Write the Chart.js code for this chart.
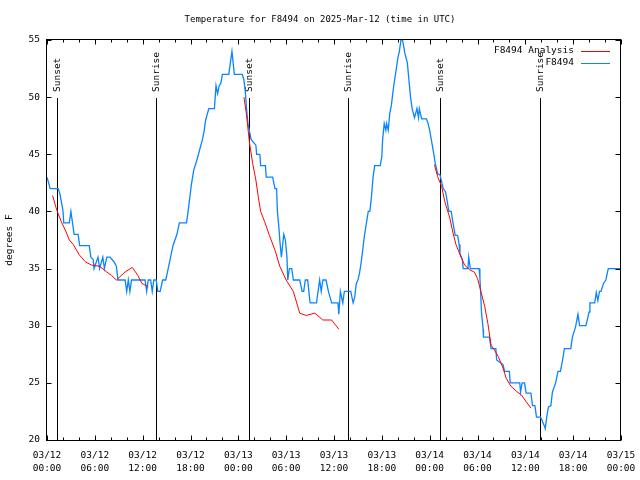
<!DOCTYPE html>
<html>
<head>
<meta charset="utf-8">
<script src="https://cdn.jsdelivr.net/npm/chart.js@4.4.1/dist/chart.umd.min.js"></script>
<style>
  html, body { margin: 0; padding: 0; background: #fff; }
</style>
</head>
<body>
<canvas id="chart" width="640" height="480"></canvas>
<script>
// hours since 03/12 00:00 UTC
const blueHours = [0, 0.4, 1.4, 1.6, 2.0, 2.1, 2.8, 3.0, 3.2, 3.4, 3.9, 4.1, 5.3, 5.5, 5.8, 5.9, 6.4, 6.6, 7.0, 7.2, 7.5, 7.9,
  8.4, 8.7, 8.9, 9.8, 10.0, 10.2, 10.4, 10.6, 12.3, 12.5, 12.7, 13.0, 13.2, 13.4, 13.7, 13.9, 14.2, 14.5, 14.9,
  15.2, 15.5, 15.8, 16.3, 16.6, 17.0, 17.5, 17.7, 18.1, 18.4, 18.8, 19.0, 19.5, 19.7, 19.9, 20.3, 21.0, 21.2, 21.4,
  21.6, 21.8, 22.0, 22.8, 23.0, 23.2, 23.5, 24.5, 24.7, 24.9, 25.0, 25.2, 25.6, 26.2, 26.3, 26.7, 26.8, 27.4, 27.5,
  28.3, 28.6, 28.8, 28.9, 29.1, 29.2, 29.4, 29.7, 29.9, 30.1, 30.2, 30.4, 30.7, 30.9, 31.7, 32.0, 32.2, 32.4, 32.7,
  33.0, 33.8, 34.0, 34.2, 34.4, 34.6, 35.0, 35.3, 35.7, 36.5, 36.6, 36.8, 37.1, 37.3, 38.0, 38.1, 38.4, 38.6, 38.8,
  39.0, 39.2, 39.4, 39.6, 39.8, 40.0, 40.3, 40.5, 40.7, 40.9, 41.1, 41.8, 42.0, 42.1, 42.3, 42.5, 42.6, 42.8, 43.0,
  43.2, 43.4, 43.6, 43.8, 44.0, 44.2, 44.4, 44.6, 44.9, 45.2, 45.4, 45.6, 45.8, 46.1, 46.4, 46.6, 46.7, 47.0, 47.6,
  47.8, 48.0, 48.2, 48.5, 48.7, 49.0, 49.3, 49.7, 50.0, 50.2, 50.4, 50.7, 50.9, 51.2, 51.5, 51.7, 51.8, 52.1, 52.2,
  52.8, 52.9, 53.1, 54.2, 54.3, 54.4, 54.5, 54.7, 54.75, 55.5, 55.7, 56.3, 56.4, 57.2, 57.4, 58.0, 58.1, 59.3, 59.4,
  59.6, 59.9, 60.1, 60.7, 60.9, 61.2, 61.4, 61.9, 62.1, 62.4, 62.5, 62.7, 62.9, 63.2, 63.4, 63.8, 64.1, 64.4, 64.7,
  64.9, 65.7, 65.9, 66.3, 66.6, 66.8, 67.6, 68.0, 68.1, 68.7, 68.9, 69.1, 69.3, 69.5, 69.8, 70.1, 70.4, 72];
const blueTemps = [43, 42, 42, 41.6, 40.1, 39, 39, 40, 39, 38, 38, 37, 37, 36, 35.8, 35, 36, 35, 36, 35, 36, 36,
  35.6, 35.2, 34, 34, 33, 34, 33, 34, 34, 33, 34, 34, 33, 34, 34, 33, 33, 34, 34,
  35, 36, 37, 38, 39, 39, 39, 40, 42.3, 43.6, 44.5, 45, 46.3, 47, 48, 49, 49, 51, 50.3,
  51, 51.2, 52, 52, 53, 54, 52, 52, 51.5, 50.3, 49.2, 47.7, 46.3, 45.8, 45, 45, 44, 44, 43,
  43, 42, 42, 40, 38.5, 37.5, 36, 38, 37.5, 36, 34, 35, 35, 34, 34, 33, 33, 34, 34,
  32, 32, 33, 34, 33, 34, 34, 33, 32, 32, 31, 33, 32, 33, 33, 33, 32, 32.5, 33.7,
  34, 34.6, 35.5, 36.6, 37.8, 38.7, 40, 40, 41.3, 43, 44, 44, 44.8, 46.3, 47.7, 47.1, 47.7, 47.1, 48.6,
  49.3, 50.5, 51.5, 52.4, 53.4, 54, 55, 55, 53.8, 53, 51.5, 50, 49, 48.2, 49, 48.2, 49, 48.1, 48.1,
  47.7, 47.1, 46.3, 45.1, 44.2, 43.3, 43.2, 42, 41.7, 40.9, 40, 40, 39.1, 37.9, 37.9, 37.1, 36.3, 35.8, 35,
  35, 36, 35, 35, 34.2, 32.8, 31.2, 29.7, 29, 29, 28, 28, 27, 26.6, 26, 26, 25, 25, 24.2,
  25, 25, 24.1, 24.1, 23, 23, 22, 22, 21.7, 21.2, 21, 22.1, 22.9, 23, 24.2, 25, 26, 26, 27.1,
  28, 28, 29, 29.9, 31, 30, 30, 31.2, 32, 32, 32.9, 32.2, 33, 33, 33.7, 34, 35, 35];

// analysis series, null = gap between runs
const redHours = [0.7, 1.1, 1.4, 1.8, 2.4, 2.8, 3.3, 4.05, 4.8, 5.6, 6.6, 7.5, 8.1, 8.7, 9.8, 10.7, 11.4, 11.9, 12.7,
  13.0,
  24.7, 25.0, 25.2, 25.4, 25.8, 26.2, 26.5, 26.8, 27.3, 27.9, 28.6, 29.2, 30.0, 30.9, 31.7, 32.5, 33.6, 34.6, 35.7, 36.6,
  37.0,
  48.6, 49.0, 49.5, 49.9, 50.5, 50.9, 51.3, 52.0, 52.4, 53.0, 53.6, 54.0, 54.5, 54.9, 55.3, 55.7, 56.1, 56.6, 57.2,
  57.6, 58.2, 58.9, 59.5, 60.1, 60.7];
const redTemps = [41.4, 40.4, 39.8, 39.1, 38.2, 37.5, 37.1, 36.2, 35.6, 35.3, 35.2, 34.7, 34.4, 34.0, 34.7, 35.1, 34.4, 33.7, 33.4,
  null,
  50.0, 48.6, 47.3, 46.0, 44.2, 42.75, 41.3, 40.0, 39.1, 37.9, 36.6, 35.2, 34.0, 33.0, 31.1, 30.9, 31.1, 30.5, 30.5, 29.7,
  null,
  44.1, 43.05, 42.2, 40.85, 39.5, 38.2, 37.1, 35.9, 35.3, 34.9, 34.7, 34.15, 32.8, 31.7, 30.2, 28.3, 27.9, 27.3, 26.3,
  25.4, 24.7, 24.25, 23.95, 23.35, 22.8];

const sunHours = [1.3, 13.7, 25.4, 37.8, 49.3, 61.8];
const sunLabels = ["Sunset", "Sunrise", "Sunset", "Sunrise", "Sunset", "Sunrise"];

const xTickDates = ["03/12", "03/12", "03/12", "03/12", "03/13", "03/13", "03/13", "03/13", "03/14", "03/14", "03/14", "03/14", "03/15"];
const xTickTimes = ["00:00", "06:00", "12:00", "18:00", "00:00", "06:00", "12:00", "18:00", "00:00", "06:00", "12:00", "18:00", "00:00"];
const yTicks = [20, 25, 30, 35, 40, 45, 50, 55];

const FONT = "'DejaVu Sans Mono', 'Liberation Mono', monospace";
const BLUE = "#0a84ff";
const RED = "#ff0000";

// gnuplot style box with inward ticks on all four sides
const framePlugin = {
  id: "frame",
  afterDraw(chart) {
    const { ctx, chartArea: a, scales: { x, y } } = chart;
    const L = Math.round(a.left) - 0.5, R = Math.round(a.right) - 0.5;
    const T = Math.round(a.top) - 0.5, B = Math.round(a.bottom) + 0.5;
    ctx.save();
    ctx.strokeStyle = "#000";
    ctx.lineWidth = 1;
    ctx.strokeRect(L, T, R - L, B - T);
    ctx.beginPath();
    for (let h = 0; h <= 72; h += 2) {
      const px = Math.round(x.getPixelForValue(h)) + 0.5;
      const len = h % 6 === 0 ? 5 : 3;
      ctx.moveTo(px, B); ctx.lineTo(px, B - len);
      ctx.moveTo(px, T); ctx.lineTo(px, T + len);
    }
    for (const v of yTicks) {
      const py = Math.round(y.getPixelForValue(v)) + 0.5;
      ctx.moveTo(L, py); ctx.lineTo(L + 5, py);
      ctx.moveTo(R, py); ctx.lineTo(R - 5, py);
    }
    ctx.stroke();
    ctx.restore();
  }
};

// sunrise / sunset markers
const sunPlugin = {
  id: "sun",
  beforeDatasetsDraw(chart) {
    const { ctx, chartArea: a, scales: { x, y } } = chart;
    const top = Math.round(y.getPixelForValue(49.9));
    ctx.save();
    ctx.strokeStyle = "#000";
    ctx.lineWidth = 1;
    ctx.fillStyle = "#000";
    ctx.font = "9.5px " + FONT;
    sunHours.forEach((h, i) => {
      const px = Math.round(x.getPixelForValue(h)) + 0.5;
      ctx.beginPath();
      ctx.moveTo(px, top);
      ctx.lineTo(px, a.bottom);
      ctx.stroke();
      ctx.save();
      ctx.translate(px, top - 6);
      ctx.rotate(-Math.PI / 2);
      ctx.textAlign = "left";
      ctx.textBaseline = "middle";
      ctx.fillText(sunLabels[i], 0, 0);
      ctx.restore();
    });
    ctx.restore();
  }
};

// key in the top right corner
const keyPlugin = {
  id: "key",
  afterDraw(chart) {
    const { ctx } = chart;
    ctx.save();
    ctx.font = "9.5px " + FONT;
    ctx.fillStyle = "#000";
    ctx.textAlign = "right";
    ctx.textBaseline = "middle";
    chart.data.datasets.forEach((ds, i) => {
      const yy = 50.5 + i * 12;
      ctx.fillText(ds.label, 574, yy);
      ctx.strokeStyle = ds.borderColor;
      ctx.lineWidth = 1;
      ctx.beginPath();
      ctx.moveTo(581, Math.round(yy) + 0.5);
      ctx.lineTo(610, Math.round(yy) + 0.5);
      ctx.stroke();
    });
    ctx.restore();
  }
};

new Chart(document.getElementById("chart"), {
  type: "line",
  data: {
    datasets: [
      {
        label: "F8494 Analysis",
        data: redHours.map((h, i) => ({ x: h, y: redTemps[i] })),
        borderColor: RED,
        borderWidth: 1,
        pointRadius: 0,
        spanGaps: false
      },
      {
        label: "F8494",
        data: blueHours.map((h, i) => ({ x: h, y: blueTemps[i] })),
        borderColor: BLUE,
        borderWidth: 1.3,
        pointRadius: 0
      }
    ]
  },
  options: {
    responsive: false,
    animation: false,
    layout: { padding: 0 },
    plugins: {
      legend: { display: false },
      tooltip: { enabled: false },
      title: {
        display: true,
        text: "Temperature for F8494 on 2025-Mar-12 (time in UTC)",
        color: "#000",
        font: { family: FONT, size: 9, weight: "normal", lineHeight: 1.2 },
        padding: { top: 14, bottom: 15.2 }
      }
    },
    scales: {
      x: {
        type: "linear",
        min: 0,
        max: 72,
        grid: { display: false, drawTicks: false },
        border: { display: false },
        afterFit(s) { s.height = 40; s.paddingLeft = 0; s.paddingRight = 19; },
        ticks: {
          stepSize: 6,
          padding: 9,
          maxRotation: 0,
          autoSkip: false,
          color: "#000",
          font: { family: FONT, size: 9.5, lineHeight: 1.4 },
          callback: v => [xTickDates[v / 6], xTickTimes[v / 6]]
        }
      },
      y: {
        min: 20,
        max: 55,
        grid: { display: false, drawTicks: false },
        border: { display: false },
        afterFit(s) { s.width = 47; s.paddingTop = 0; s.paddingBottom = 0; },
        ticks: {
          stepSize: 5,
          padding: 7,
          color: "#000",
          font: { family: FONT, size: 9.5 }
        },
        title: {
          display: true,
          text: "degrees F",
          color: "#000",
          font: { family: FONT, size: 9.5 },
          padding: { top: 4, bottom: 0 }
        }
      }
    }
  },
  plugins: [sunPlugin, framePlugin, keyPlugin]
});
</script>
</body>
</html>
